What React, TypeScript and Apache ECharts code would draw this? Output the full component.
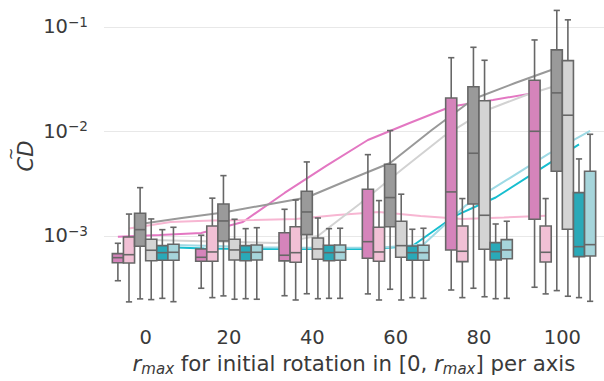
import React, { useEffect, useRef } from 'react';
import * as echarts from 'echarts';

const rmaxCategories = ['0', '20', '40', '60', '80', '100'];
const yTickExponents = [-3, -2, -1];

// [lower whisker, Q1, median, Q3, upper whisker] per category
const pinkDarkBox = [
  [3.73e-4, 5.55e-4, 6.2e-4, 6.77e-4, 8.51e-4],
  [3.16e-4, 5.73e-4, 6.25e-4, 7.51e-4, 1.016e-3],
  [2.68e-4, 5.77e-4, 6.54e-4, 1.075e-3, 1.8e-3],
  [2.79e-4, 6.12e-4, 8.82e-4, 2.8e-3, 6.0e-3],
  [3.04e-4, 7.35e-4, 2.64e-3, 2.09e-2, 5.08e-2],
  [3.23e-4, 1.445e-3, 1.004e-2, 3.09e-2, 7.51e-2],
];
const pinkLightBox = [
  [2.34e-4, 5.52e-4, 6.62e-4, 9.78e-4, 1.62e-3],
  [2.57e-4, 5.73e-4, 7.03e-4, 1.247e-3, 2.3e-3],
  [2.44e-4, 5.6e-4, 6.92e-4, 1.227e-3, 2.21e-3],
  [2.44e-4, 5.73e-4, 7.03e-4, 1.211e-3, 2.18e-3],
  [2.57e-4, 5.68e-4, 7.14e-4, 1.247e-3, 2.28e-3],
  [2.79e-4, 5.64e-4, 6.98e-4, 1.247e-3, 2.28e-3],
];
const grayDarkBox = [
  [2.5e-4, 7.97e-4, 1.149e-3, 1.65e-3, 2.9e-3],
  [2.67e-4, 8.96e-4, 1.392e-3, 2.02e-3, 3.78e-3],
  [2.8e-4, 1.029e-3, 1.697e-3, 2.68e-3, 5.11e-3],
  [3.09e-4, 1.227e-3, 2.33e-3, 4.86e-3, 1.02e-2],
  [3.16e-4, 2.02e-3, 6.19e-3, 2.68e-2, 6.39e-2],
  [3.0e-4, 4.16e-3, 2.34e-2, 6.03e-2, 1.44e-1],
];
const grayLightBox = [
  [2.46e-4, 5.8e-4, 7.3e-4, 9.3e-4, 1.455e-3],
  [2.48e-4, 5.89e-4, 7.35e-4, 9.3e-4, 1.445e-3],
  [2.51e-4, 5.98e-4, 7.51e-4, 9.57e-4, 1.486e-3],
  [2.44e-4, 6.25e-4, 8.08e-4, 1.383e-3, 2.51e-3],
  [2.62e-4, 7.46e-4, 1.578e-3, 1.97e-2, 4.8e-2],
  [2.65e-4, 1.159e-3, 1.43e-2, 4.76e-2, 1.17e-1],
];
const tealDarkBox = [
  [2.53e-4, 5.86e-4, 6.92e-4, 8.08e-4, 1.149e-3],
  [2.51e-4, 5.8e-4, 6.98e-4, 8.08e-4, 1.175e-3],
  [2.53e-4, 5.8e-4, 6.92e-4, 8.15e-4, 1.175e-3],
  [2.57e-4, 5.86e-4, 6.92e-4, 8.02e-4, 1.159e-3],
  [2.51e-4, 5.89e-4, 7.08e-4, 8.63e-4, 1.302e-3],
  [2.57e-4, 6.34e-4, 7.9e-4, 2.6e-3, 5.46e-3],
];
const tealLightBox = [
  [2.35e-4, 5.86e-4, 6.98e-4, 8.33e-4, 1.211e-3],
  [2.48e-4, 5.89e-4, 6.98e-4, 8.2e-4, 1.2e-3],
  [2.53e-4, 5.86e-4, 6.98e-4, 8.2e-4, 1.185e-3],
  [2.53e-4, 5.86e-4, 6.92e-4, 8.15e-4, 1.185e-3],
  [2.53e-4, 6.06e-4, 7.35e-4, 9.22e-4, 1.383e-3],
  [2.37e-4, 6.44e-4, 8.26e-4, 4.16e-3, 9.4e-3],
];

// mean curves, sampled every 10 of r_max
const lineR = [0, 10, 20, 30, 40, 50, 60, 70, 80, 90, 100];
const pinkDarkMean = [9.85e-4, 1.022e-3, 1.068e-3, 1.361e-3, 2.58e-3, 4.68e-3, 8.29e-3, 1.206e-2, 1.735e-2, 2.0e-2, 2.34e-2];
const pinkLightMean = [1.18e-3, 1.361e-3, 1.407e-3, 1.423e-3, 1.455e-3, 1.588e-3, 1.697e-3, 1.554e-3, 1.455e-3, 1.503e-3, 1.564e-3];
const grayDarkMean = [1.302e-3, 1.486e-3, 1.679e-3, 1.98e-3, 2.335e-3, 3.435e-3, 4.995e-3, 1.033e-2, 2.046e-2, 2.91e-2, 4.05e-2];
const grayLightMean = [9.16e-4, 8.96e-4, 8.76e-4, 8.57e-4, 1.0e-3, 2.024e-3, 4.28e-3, 8.86e-3, 1.571e-2, 2.235e-2, 2.977e-2];
const tealDarkMean = [7.85e-4, 7.59e-4, 7.51e-4, 7.51e-4, 7.51e-4, 7.51e-4, 8.02e-4, 1.537e-3, 2.335e-3, 4.19e-3, 7.51e-3];
const tealLightMean = [8.2e-4, 8.02e-4, 7.8e-4, 7.73e-4, 7.73e-4, 7.76e-4, 8.29e-4, 1.937e-3, 3.435e-3, 6.09e-3, 1.011e-2];

const hues = [
  { box: pinkDarkBox, mean: pinkDarkMean, fill: '#d584bb', line: '#e377c2' },
  { box: pinkLightBox, mean: pinkLightMean, fill: '#f1c0d5', line: '#f7b6d2' },
  { box: grayDarkBox, mean: grayDarkMean, fill: '#9a9a9a', line: '#999999' },
  { box: grayLightBox, mean: grayLightMean, fill: '#d4d4d4', line: '#d2d2d2' },
  { box: tealDarkBox, mean: tealDarkMean, fill: '#2aa9b8', line: '#17becf' },
  { box: tealLightBox, mean: tealLightMean, fill: '#a6d5db', line: '#9edae5' },
];

const EDGE = '#676767';
const TEXT = '#3a3a3a';
const FONT = 'DejaVu Sans';
const FS = 19.5;
const LFS = 21.3;
const GROUP_FRAC = 0.8;

export default function App() {
  const ref = useRef<HTMLDivElement>(null);
  useEffect(() => {
    if (!ref.current) return;
    const chart = echarts.init(ref.current, undefined, { renderer: 'svg' });
    const nh = hues.length;
    const boxSeries = hues.map((h, k) => ({
      type: 'custom',
      z: 5,
      xAxisIndex: 0,
      encode: { x: 0, y: [1, 2, 3, 4, 5] },
      data: h.box.map((b, i) => [i, ...b.map((v) => Math.log10(v))]),
      renderItem: (params: any, api: any) => {
        const cat = api.value(0);
        const band = api.size([1, 0])[0];
        const w = (band * GROUP_FRAC) / nh;
        const xc = api.coord([cat, -2])[0] + (k - (nh - 1) / 2) * w;
        const yLow = api.coord([cat, api.value(1)])[1];
        const yQ1 = api.coord([cat, api.value(2)])[1];
        const yMed = api.coord([cat, api.value(3)])[1];
        const yQ3 = api.coord([cat, api.value(4)])[1];
        const yHigh = api.coord([cat, api.value(5)])[1];
        const cap = w * 0.28;
        const s = { stroke: EDGE, lineWidth: 1.6 };
        return {
          type: 'group',
          children: [
            { type: 'line', shape: { x1: xc, y1: yQ3, x2: xc, y2: yHigh }, style: s },
            { type: 'line', shape: { x1: xc, y1: yQ1, x2: xc, y2: yLow }, style: s },
            { type: 'line', shape: { x1: xc - cap, y1: yHigh, x2: xc + cap, y2: yHigh }, style: s },
            { type: 'line', shape: { x1: xc - cap, y1: yLow, x2: xc + cap, y2: yLow }, style: s },
            {
              type: 'rect',
              shape: { x: xc - w / 2, y: yQ3, width: w, height: yQ1 - yQ3 },
              style: { fill: h.fill, stroke: EDGE, lineWidth: 1.6 },
            },
            { type: 'line', shape: { x1: xc - w / 2, y1: yMed, x2: xc + w / 2, y2: yMed }, style: s },
          ],
        };
      },
    }));
    const lineSeries = hues.map((h, k) => {
      const off = ((k - (nh - 1) / 2) * GROUP_FRAC) / nh;
      return {
        type: 'line',
        z: 1,
        xAxisIndex: 1,
        showSymbol: false,
        symbol: 'none',
        lineStyle: { color: h.line, width: 2 },
        data: lineR.map((r, i) => [r / 20 + off, Math.log10(h.mean[i])]),
      };
    });
    chart.setOption({
      animation: false,
      grid: { left: 104, right: -9, top: 0, bottom: 63 },
      xAxis: [
        {
          type: 'category',
          data: rmaxCategories,
          boundaryGap: true,
          axisLine: { show: false },
          axisTick: { show: false },
          splitLine: { show: false },
          axisLabel: { color: TEXT, fontSize: FS, fontFamily: FONT, margin: 9 },
          name: '{i|r}{sub|max}{n| for initial rotation in [0, }{i|r}{sub|max}{n|] per axis}',
          nameLocation: 'middle',
          nameGap: 32,
          nameTextStyle: {
            color: TEXT,
            fontSize: LFS,
            fontFamily: FONT,
            rich: {
              i: { fontStyle: 'italic', fontSize: LFS, fontFamily: FONT, color: TEXT, lineHeight: 26 },
              n: { fontSize: LFS, fontFamily: FONT, color: TEXT, lineHeight: 26 },
              sub: { fontStyle: 'italic', fontSize: 15, fontFamily: FONT, color: TEXT, lineHeight: 14, verticalAlign: 'bottom' },
            },
          },
        },
        { type: 'value', min: -0.5, max: 5.5, show: false },
      ],
      yAxis: {
        type: 'value',
        min: -3.785,
        max: -0.742,
        axisLine: { show: false },
        axisTick: { show: false, customValues: yTickExponents },
        splitLine: { show: true, lineStyle: { color: '#e8e8e8', width: 1 } },
        axisLabel: {
          customValues: yTickExponents,
          margin: 16,
          formatter: (v: number) => `{b|10}{s|\u2212${Math.round(-v)}}`,
          rich: {
            b: { fontSize: FS, fontFamily: FONT, color: TEXT, lineHeight: 24 },
            s: { fontSize: 13.6, fontFamily: FONT, color: TEXT, lineHeight: 14, verticalAlign: 'top' },
          },
        },
      },
      graphic: [
        {
          type: 'text',
          x: 26,
          y: 156,
          rotation: Math.PI / 2,
          style: { text: 'CD', font: `italic 21px "${FONT}"`, fill: TEXT, align: 'center', verticalAlign: 'middle' },
        },
        {
          type: 'text',
          x: 11,
          y: 154,
          rotation: Math.PI / 2,
          style: { text: '~', font: `15px "${FONT}"`, fill: TEXT, align: 'center', verticalAlign: 'middle' },
        },
      ],
      series: [...lineSeries, ...boxSeries],
    });
    return () => chart.dispose();
  }, []);
  return <div ref={ref} style={{ position: 'absolute', left: 0, top: 0, width: 604, height: 381 }} />;
}
